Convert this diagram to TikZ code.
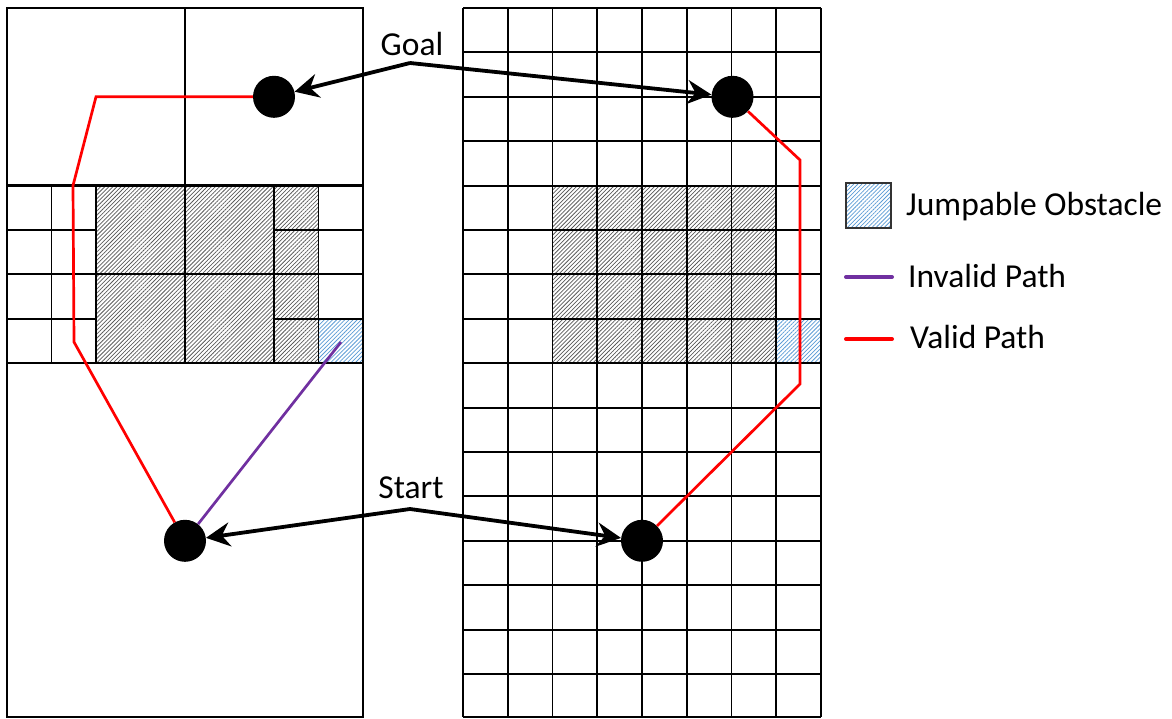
\documentclass[tikz,border=0pt]{standalone}
\usepackage{fontspec}
\setmainfont{Carlito}
\usetikzlibrary{arrows.meta,patterns.meta}
\definecolor{hatchgray}{RGB}{90,90,90}
\definecolor{jumpblue}{RGB}{91,155,213}
\definecolor{validred}{RGB}{255,0,0}
\definecolor{invalidpurple}{RGB}{112,48,160}
\begin{document}
\begin{tikzpicture}[x=1pt,y=-1pt,
  gridline/.style={line width=1.9pt, black},
  thickgrid/.style={line width=2.4pt, black},
  obst/.style={pattern={Lines[angle=45,distance=2.9pt,line width=0.75pt]}, pattern color=hatchgray},
  jump/.style={pattern={Lines[angle=45,distance=2.9pt,line width=0.75pt]}, pattern color=jumpblue},
  dot/.style={circle, fill=black, minimum size=42pt, inner sep=0pt},
  pointer/.style={line width=3.8pt, -{Stealth[length=24pt,width=24pt,inset=8pt]}},
  valid/.style={line width=2.7pt, validred, line join=miter},
  invalid/.style={line width=2.7pt, invalidpurple},
  legline/.style={line width=4pt, line cap=round},
  lbl/.style={font=\fontsize{33.5}{40}\selectfont, anchor=base, inner sep=0pt},
  legtxt/.style={lbl, anchor=base west},
  legbox/.style={jump, draw=black!80, line width=1.2pt, minimum size=45pt, inner sep=0pt}
]
\useasboundingbox (0,0) rectangle (1172,718);

% ---------- left grid (adaptive) ----------
\fill[obst] (96,185.6) rectangle (318.5,363.2);
\fill[jump] (318.5,318.8) rectangle (363,363.2);
\draw[gridline] (7,8) rectangle (363,717);
\draw[gridline] (185,8) -- (185,363.2);
\draw[thickgrid] (7,185.6) -- (363,185.6);
\draw[thickgrid] (7,363.2) -- (363,363.2);
\foreach \vx in {51.5,96,274,318.5}
  \draw[gridline] (\vx,185.6) -- (\vx,363.2);
\foreach \hy in {230,318.8} {
  \draw[gridline] (7,\hy) -- (96,\hy);
  \draw[gridline] (274,\hy) -- (363,\hy);
}
\draw[gridline] (7,274.4) -- (363,274.4);

% ---------- right grid (uniform) ----------
\fill[obst] (552.5,185.6) rectangle (776.25,363.2);
\fill[jump] (776.25,318.8) rectangle (821,363.2);
\foreach \i in {0,...,8}
  \draw[gridline] ({463+\i*44.75},8) -- ({463+\i*44.75},717);
\foreach \j in {0,...,15}
  \draw[gridline] (463,{8+\j*44.4}) -- (821,{8+\j*44.4});
\draw[gridline] (463,717) -- (821,717);

% ---------- dots ----------
\node[dot] (lg) at (274,96.8) {};
\node[dot] (ls) at (185,540.8) {};
\node[dot] (rg) at (732.5,96.8) {};
\node[dot] (rs) at (642,540.8) {};

% ---------- paths ----------
\coordinate (l1) at (96,96.8);
\coordinate (l2) at (73,185.6);
\coordinate (l3) at (74,342);
\draw[valid] (lg) -- (l1) -- (l2) -- (l3) -- (ls);
\coordinate (p1) at (341,342);
\draw[invalid] (p1) -- (ls);
\coordinate (r1) at (800,160);
\coordinate (r2) at (800,384);
\draw[valid] (rg) -- (r1) -- (r2) -- (rs);

% ---------- labels and pointers ----------
\node[lbl] (goal) at (412,55) {Goal};
\node[lbl] (start) at (411,498) {Start};
\coordinate (goalj) at (410,63);
\coordinate (startj) at (410,509);
\draw[pointer] (goalj) -- (lg);
\draw[pointer] (goalj) -- (rg);
\draw[pointer] (startj) -- (ls);
\draw[pointer] (startj) -- (rs);

% ---------- legend ----------
\node[legbox] (jbox) at (868.5,205.5) {};
\node[legtxt] (jtxt) at (906,215) {Jumpable Obstacle};
\coordinate (ia) at (846,277);
\coordinate (ib) at (892,277);
\draw[legline, invalidpurple] (ia) -- (ib);
\node[legtxt] (itxt) at (908,287) {Invalid Path};
\coordinate (va) at (846,339);
\coordinate (vb) at (892,339);
\draw[legline, validred] (va) -- (vb);
\node[legtxt] (vtxt) at (910,348) {Valid Path};
\end{tikzpicture}
\end{document}
